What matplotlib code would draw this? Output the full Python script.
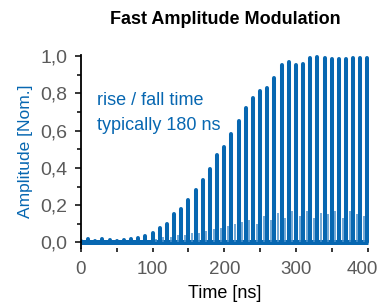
"""Fast amplitude modulation: pulse train with rising envelope."""
import matplotlib
matplotlib.use("Agg")
import matplotlib.pyplot as plt
import matplotlib.ticker as mticker
import matplotlib.transforms as mtransforms

BLUE = "#0767b1"
LIGHT_BLUE = "#4d92cc"
GRAY = "#5a5a5a"

# pulse times [ns] and peak amplitudes [norm.]
pulse_t = [0, 10, 20, 30, 40, 50, 60, 70, 80, 90,
           100, 110, 120, 130, 140, 150, 160, 170, 180, 190,
           200, 210, 220, 230, 240, 250, 260, 270, 280, 290,
           300, 310, 320, 330, 340, 350, 360, 370, 380, 390, 399]
pulse_amp = [0.010, 0.016, 0.010, 0.016, 0.014, 0.010, 0.014, 0.016, 0.022, 0.035,
             0.052, 0.078, 0.097, 0.150, 0.182, 0.226, 0.283, 0.335, 0.396, 0.467,
             0.514, 0.583, 0.649, 0.720, 0.772, 0.812, 0.826, 0.881, 0.951, 0.966,
             0.952, 0.959, 0.990, 0.996, 0.990, 0.982, 0.982, 0.982, 0.990, 0.990, 0.990]

# small after-pulses between the main pulses
after_t = [105, 115, 125, 135, 145, 155, 165, 175, 185, 195,
           205, 215, 225, 235, 245, 255, 265, 275, 285, 295,
           305, 315, 325, 335, 345, 355, 365, 375, 385, 395]
after_amp = [0.02, 0.03, 0.03, 0.04, 0.04, 0.05, 0.05, 0.06, 0.07, 0.08,
             0.09, 0.10, 0.11, 0.12, 0.10, 0.14, 0.12, 0.16, 0.13, 0.17,
             0.14, 0.17, 0.13, 0.16, 0.15, 0.17, 0.13, 0.17, 0.15, 0.14]

x_ticks = [0, 100, 200, 300, 400]

plt.rcParams["font.family"] = ["Liberation Sans", "DejaVu Sans"]

fig = plt.figure(figsize=(3.82, 3.04), dpi=100)
ax = fig.add_axes([0.212, 0.184, 0.754, 0.635])

# baseline band
ax.hlines(0.003, 0, 401, color=BLUE, linewidth=3.6)
ax.vlines(after_t, 0, after_amp, color=LIGHT_BLUE, linewidth=1.1)
ax.vlines(pulse_t, 0, pulse_amp, color=BLUE, linewidth=2.9, capstyle="round")

ax.set_xlim(0, 402)
ax.set_ylim(-0.03, 1.005)

ax.set_xticks(x_ticks)
ax.set_xticklabels([str(v) for v in x_ticks])
ax.xaxis.set_minor_locator(mticker.MultipleLocator(50))
ax.yaxis.set_major_locator(mticker.MultipleLocator(0.2))
ax.yaxis.set_minor_locator(mticker.MultipleLocator(0.1))
ax.yaxis.set_major_formatter(mticker.FuncFormatter(lambda v, p: f"{v:.1f}".replace(".", ",")))

for side in ("top", "right", "bottom"):
    ax.spines[side].set_visible(False)
ax.spines["left"].set_linewidth(1.3)

ax.tick_params(axis="both", which="both", direction="out", color="black", width=1.1)
ax.tick_params(axis="y", which="major", length=4, labelsize=14, labelcolor=GRAY, pad=6)
ax.tick_params(axis="y", which="minor", length=3)
ax.tick_params(axis="x", which="both", length=3, pad=6, labelsize=13.5, labelcolor=GRAY)

# nudge the last x label so it stays inside the figure
last = ax.get_xticklabels()[-1]
last.set_transform(last.get_transform()
                   + mtransforms.ScaledTranslation(-4 / 72, 0, fig.dpi_scale_trans))

ax.set_xlabel("Time [ns]", fontsize=13, color="black", labelpad=5)
ax.set_ylabel("Amplitude [Nom.]", fontsize=12.5, color=BLUE, labelpad=5)
ax.set_title("Fast Amplitude Modulation", fontsize=13, fontweight="bold", pad=22)

ax.text(0.055, 0.81, "rise / fall time\ntypically 180 ns", transform=ax.transAxes,
        fontsize=13, color=BLUE, va="top", ha="left", linespacing=1.6)

fig.savefig("out.png", dpi=100, facecolor="white")
